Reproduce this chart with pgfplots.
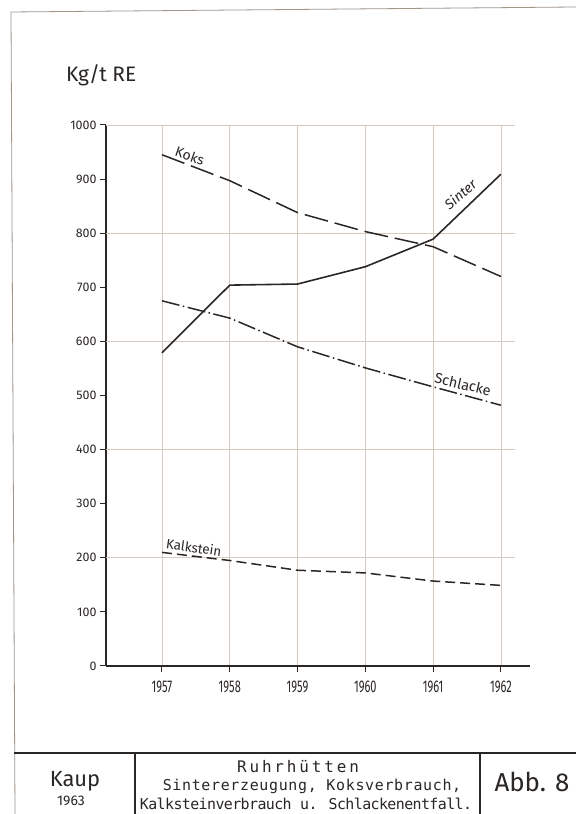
\documentclass[border=0pt]{standalone}
\usepackage{fontspec}
\setmainfont{Fira Sans}
\newfontfamily\yearfont[FakeStretch=0.65]{Fira Sans}
\newfontfamily\monofont{DejaVu Sans Mono}
\usepackage{pgfplots}
\pgfplotsset{compat=1.18}
\definecolor{ink}{RGB}{42,38,36}
\definecolor{gridc}{RGB}{212,202,190}
\definecolor{framec}{RGB}{160,150,140}
\begin{document}
\begin{tikzpicture}[x=1bp,y=1bp]
\path[use as bounding box] (0,0) rectangle (576,814);
\fill[white] (0,0) rectangle (576,814);
% frame
\draw[framec, line width=0.8] (15,0) -- (11,802) -- (576,807);
% table
\draw[ink, line width=1.4] (14,61) -- (576,61);
\draw[ink, line width=1.2] (135,61) -- (135,0);
\draw[ink, line width=1.2] (480,61) -- (480,0);
\node[anchor=base, inner sep=0, text=ink, font=\fontsize{22}{22}\selectfont] at (75,27) {Kaup};
\node[anchor=base, inner sep=0, text=ink, font=\fontsize{14}{14}\selectfont] at (71,8) {1963};
\node[anchor=base, inner sep=0, text=ink, font=\fontsize{26}{26}\selectfont] at (532,22) {Abb. 8};
\node[anchor=base, inner sep=0, text=ink, font=\monofont\fontsize{16}{16}\selectfont\addfontfeature{LetterSpace=18}] at (298,41) {Ruhrhütten};
\node[anchor=base, inner sep=0, text=ink, font=\monofont\fontsize{15}{15}\selectfont\addfontfeature{LetterSpace=4.5}] at (312,23) {Sintererzeugung, Koksverbrauch,};
\node[anchor=base, inner sep=0, text=ink, font=\monofont\fontsize{15}{15}\selectfont\addfontfeature{LetterSpace=-4}] at (306,4) {Kalksteinverbrauch u. Schlackenentfall.};
% unit label
\node[anchor=base west, inner sep=0, text=ink, font=\fontsize{21}{21}\selectfont] at (66,732) {Kg/t RE};
\begin{axis}[
  at={(106bp,148bp)}, anchor=south west,
  scale only axis, width=424bp, height=541bp,
  xmin=1956.174, xmax=1962.43, ymin=0, ymax=1000,
  axis lines=left, axis line style={ink, line width=1.5, -},
  xtick={1957,1958,1959,1960,1961,1962},
  xticklabels={1957,1958,1959,1960,1961,1962},
  ytick={0,100,...,1000},
  tick style={ink, line width=1},
  major tick length=6bp, tick align=outside,
  xticklabel style={font=\yearfont\fontsize{17}{17}\selectfont, text=ink, yshift=-5bp},
  yticklabel style={font=\fontsize{12.5}{12.5}\selectfont, text=ink},
  /pgf/number format/assume math mode=true,
  /pgf/number format/set thousands separator={},
  xmajorgrids, major grid style={gridc, line width=0.6},
  clip=false,
]
\draw[gridc, line width=0.6] (axis cs:1956.174,200) -- (axis cs:1962.21,200);
\draw[gridc, line width=0.6] (axis cs:1956.174,400) -- (axis cs:1962.21,400);
\draw[gridc, line width=0.6] (axis cs:1956.174,600) -- (axis cs:1962.21,600);
\draw[gridc, line width=0.6] (axis cs:1956.174,800) -- (axis cs:1962.21,800);
\draw[gridc, line width=0.6] (axis cs:1956.174,1000) -- (axis cs:1962.21,1000);
% Koks
\addplot[ink, line width=1.5, dash pattern=on 24bp off 7bp] coordinates {(1957,945)(1958,897)(1959,838)(1960,803)(1961,775)(1962,720)};
% Sinter
\addplot[ink, line width=1.6] coordinates {(1957,579)(1958,704)(1959,706)(1960,738)(1961,789)(1962,909)};
% Schlacke
\addplot[ink, line width=1.5, dash pattern=on 18bp off 3.5bp on 1.5bp off 3.5bp] coordinates {(1957,675)(1958,643)(1959,590)(1960,551)(1961,516)(1962,482)};
% Kalkstein
\addplot[ink, line width=1.5, dash pattern=on 10bp off 5bp] coordinates {(1957,210)(1958,195)(1959,177)(1960,172)(1961,157)(1962,149)};
\node[rotate=-19, text=ink, font=\fontsize{14}{14}\selectfont] at (axis cs:1957.41,943) {Koks};
\node[rotate=40, text=ink, font=\itshape\fontsize{14}{14}\selectfont] at (axis cs:1961.40,872) {Sinter};
\node[rotate=-13, text=ink, font=\fontsize{14.5}{14.5}\selectfont] at (axis cs:1961.44,521) {Schlacke};
\node[rotate=-8, text=ink, font=\fontsize{13.5}{13.5}\selectfont] at (axis cs:1957.47,219) {Kalkstein};
\end{axis}
\end{tikzpicture}
\end{document}
